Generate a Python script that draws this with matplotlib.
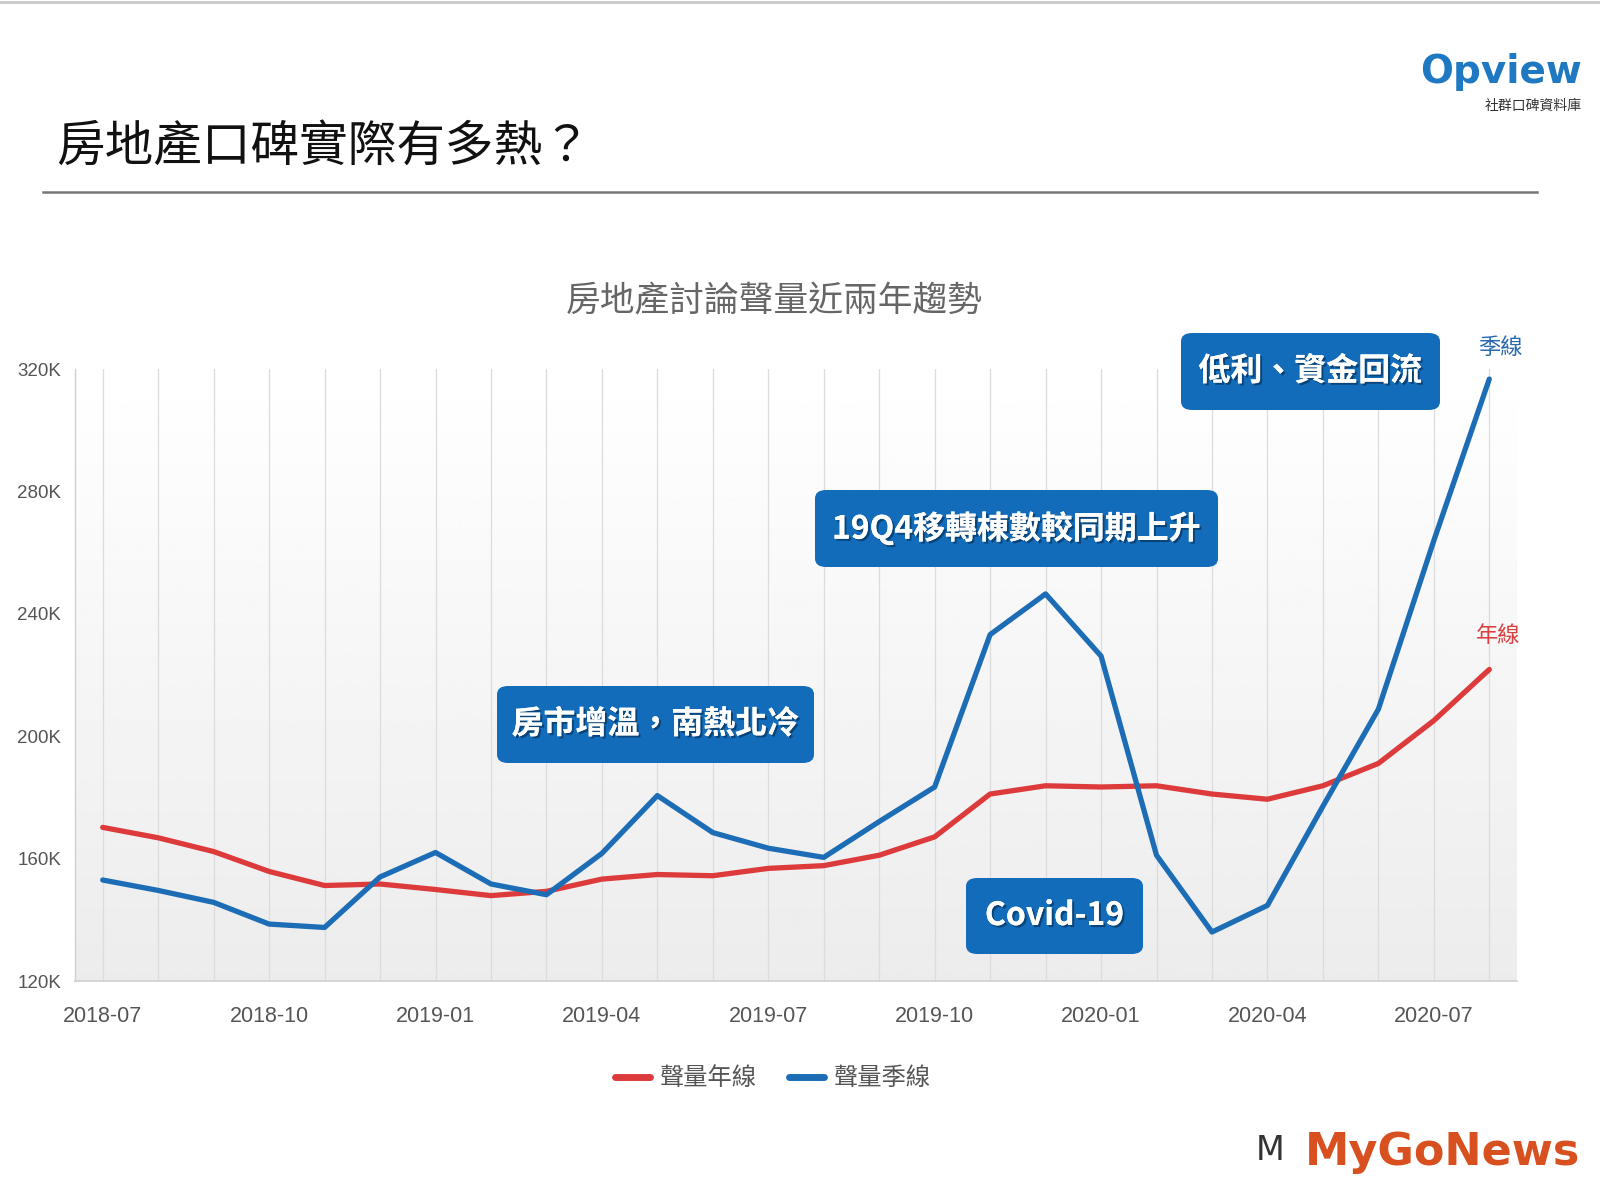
import numpy as np
import matplotlib
matplotlib.use("Agg")
import matplotlib.pyplot as plt
from matplotlib.patches import FancyBboxPatch
from matplotlib.lines import Line2D
import matplotlib.patheffects as pe

plt.rcParams['font.family'] = ['Noto Sans CJK TC', 'DejaVu Sans']

# monthly data 2018-07 .. 2020-08 (unit: K)
months = ['2018-07', '2018-08', '2018-09', '2018-10', '2018-11', '2018-12',
          '2019-01', '2019-02', '2019-03', '2019-04', '2019-05', '2019-06',
          '2019-07', '2019-08', '2019-09', '2019-10', '2019-11', '2019-12',
          '2020-01', '2020-02', '2020-03', '2020-04', '2020-05', '2020-06',
          '2020-07', '2020-08']
year_line = [170.2, 166.8, 162.3, 155.8, 151.2, 151.7, 149.9, 147.9, 149.3, 153.3,
             154.8, 154.4, 156.8, 157.7, 161.1, 167.1, 181.1, 183.8, 183.4, 183.8,
             181.1, 179.4, 183.8, 191.1, 205.1, 221.8]
quarter_line = [153.0, 149.6, 145.7, 138.6, 137.5, 154.0, 162.0, 151.7, 148.2, 161.7,
                180.6, 168.5, 163.4, 160.4, 172.1, 183.4, 233.2, 246.5, 226.2, 161.1,
                136.0, 144.7, 177.1, 208.8, 263.9, 316.7]
yticks = [120, 160, 200, 240, 280, 320]
ytick_labels = ['120K', '160K', '200K', '240K', '280K', '320K']

RED = '#dd3b3b'
BLUE = '#1c6db5'
BOX = '#136cba'
GRAY_TXT = '#555555'
NUMFONT = ['Liberation Sans', 'DejaVu Sans']

W, H = 1600, 1200
fig = plt.figure(figsize=(16, 12), dpi=100)
fig.patch.set_facecolor('white')

def fx(px):
    return px / W

def fy(py):
    return 1 - py / H

# top thin rule and title
fig.add_artist(Line2D([0, 1], [fy(2), fy(2)], color='#c8c8c8', lw=2))
fig.text(fx(56), fy(148), '房地產口碑實際有多熱？', fontsize=35, color='#111111',
         ha='left', va='center')
fig.add_artist(Line2D([fx(43), fx(1537)], [fy(192), fy(192)], color='#777777', lw=1.8))

# opview logo (as text)
fig.text(fx(1582), fy(72), 'Opview', fontsize=28, fontweight='bold', color='#1f78c2',
         ha='right', va='center', family='DejaVu Sans')
fig.text(fx(1582), fy(106), '社群口碑資料庫', fontsize=10, color='#333333',
         ha='right', va='center')

# chart title
fig.text(fx(774), fy(301), '房地產討論聲量近兩年趨勢', fontsize=25, color='#666666',
         ha='center', va='center')

# plot area
ax = fig.add_axes([fx(75), fy(981), fx(1517 - 75), (981 - 369) / H])
x = np.arange(len(months))
ax.set_xlim(-0.5, len(months) - 0.5)
ax.set_ylim(120, 320)

grad = np.linspace(1.0, 0.925, 256).reshape(-1, 1)
ax.imshow(grad, cmap='gray', vmin=0, vmax=1, aspect='auto',
          extent=[-0.5, len(months) - 0.5, 120, 320], origin='upper', zorder=0)

for xi in x:
    ax.axvline(xi, color='#dcdcdc', lw=0.9, zorder=1)

ax.plot(x, year_line, color=RED, lw=3.8, solid_capstyle='round',
        solid_joinstyle='round', zorder=3)
ax.plot(x, quarter_line, color=BLUE, lw=3.8, solid_capstyle='round',
        solid_joinstyle='round', zorder=4)

for s in ['top', 'right']:
    ax.spines[s].set_visible(False)
ax.spines['left'].set_color('#d0d0d0')
ax.spines['bottom'].set_color('#d0d0d0')
ax.spines['left'].set_linewidth(1)
ax.spines['bottom'].set_linewidth(1.2)

ax.set_yticks(yticks)
ax.set_yticklabels(ytick_labels, fontsize=13.5, color=GRAY_TXT, family=NUMFONT)
ax.set_xticks(x[::3])
ax.set_xticklabels(months[::3], fontsize=15.5, color=GRAY_TXT, family=NUMFONT)
ax.tick_params(axis='both', length=0)
ax.tick_params(axis='y', pad=10)
ax.tick_params(axis='x', pad=18)

# line end labels
fig.text(fx(1500), fy(348), '季線', fontsize=16, color='#2a6ab0', ha='center', va='center')
fig.text(fx(1498), fy(635), '年線', fontsize=16, color='#d94040', ha='center', va='center')

# annotation boxes (left, top, right, bottom in px)
notes = [
    ('房市增溫，南熱北冷', (497, 686, 814, 763)),
    ('19Q4移轉棟數較同期上升', (815, 490, 1218, 567)),
    ('低利、資金回流', (1181, 333, 1440, 410)),
    ('Covid-19', (966, 878, 1143, 954)),
]
shadow = [pe.withSimplePatchShadow(offset=(1.5, -1.5), shadow_rgbFace='#06335c', alpha=0.7),
          pe.Normal()]
for txt, (l, t, r, b) in notes:
    box = FancyBboxPatch((fx(l), fy(b)), fx(r - l), (b - t) / H,
                         boxstyle='round,pad=0,rounding_size=0.007',
                         transform=fig.transFigure, facecolor=BOX, edgecolor='none',
                         zorder=5)
    fig.add_artist(box)
    fig.text(fx((l + r) / 2), fy((t + b) / 2), txt, fontsize=23, fontweight='bold',
             color='white', ha='center', va='center', zorder=6, path_effects=shadow)

# legend (line start, line end, text start in px)
legend_items = [('聲量年線', RED, 615, 650, 660), ('聲量季線', BLUE, 789, 824, 834)]
for lbl, col, x0, x1, xt in legend_items:
    fig.add_artist(Line2D([fx(x0), fx(x1)], [fy(1077), fy(1077)], color=col,
                          lw=5, solid_capstyle='round'))
    fig.text(fx(xt), fy(1078), lbl, fontsize=17.5, color=GRAY_TXT, ha='left', va='center')

# MyGoNews mark
fig.text(fx(1580), fy(1153), 'MyGoNews', fontsize=32, fontweight='bold', color='#d8501f',
         ha='right', va='center', family='DejaVu Sans')
fig.text(fx(1270), fy(1150), 'M', fontsize=24, color='#333333', ha='center', va='center',
         family='DejaVu Sans')

fig.savefig('out.png', dpi=100)
